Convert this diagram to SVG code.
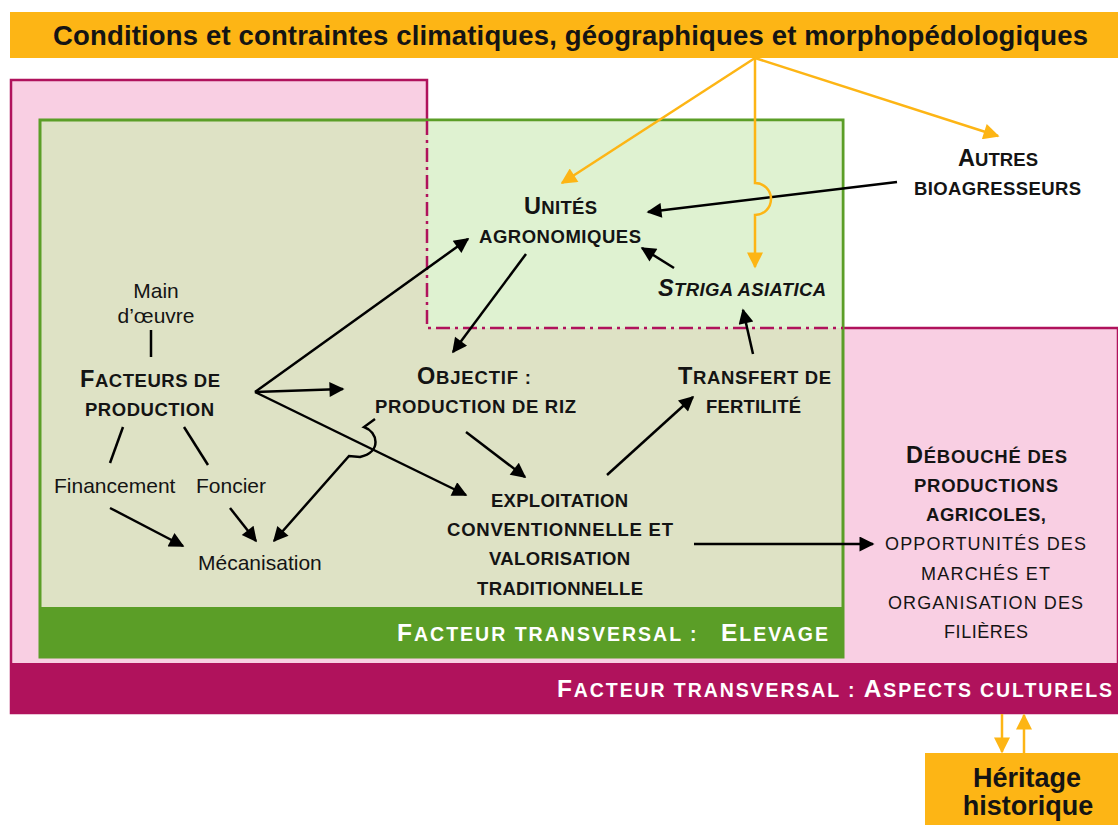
<svg xmlns="http://www.w3.org/2000/svg" width="1118" height="825" viewBox="0 0 1118 825">
<style>
text{font-family:"Liberation Sans",Arial,sans-serif;fill:#141414;text-anchor:middle}
.b{font-weight:bold;font-size:18.5px}
.bb{font-weight:bold;font-size:19.5px}
.r{font-size:21px}
.rs{font-size:18px}
.cap{font-size:23.5px}
.cap2{font-size:24.5px}
.w{fill:#ffffff}
.ln{fill:none;stroke:#000;stroke-width:2.5}
.ar{fill:none;stroke:#000;stroke-width:2.5;marker-end:url(#ab)}
.ao{fill:none;stroke:#fdb515;stroke-width:2.5;marker-end:url(#ao)}
</style>
<defs>
<marker id="ab" viewBox="0 0 10 10" refX="9" refY="5" markerUnits="userSpaceOnUse" markerWidth="18" markerHeight="15" orient="auto"><path d="M0,0 L10,5 L0,10 Z" fill="#000"/></marker>
<marker id="ao" viewBox="0 0 10 10" refX="9" refY="5" markerUnits="userSpaceOnUse" markerWidth="18" markerHeight="16" orient="auto"><path d="M0,0 L10,5 L0,10 Z" fill="#fdb515"/></marker>
</defs>
<rect width="1118" height="825" fill="#fff"/>
<g id="fond">
<path d="M11,80 H427 V328 H1118 V713 H11 Z" fill="#f9cfe3" stroke="#b0125c" stroke-width="2.5"/>
<rect x="40" y="120" width="803" height="537" fill="#dee2c5" stroke="#5b9e27" stroke-width="3"/>
<rect x="428" y="121.5" width="413.5" height="206.5" fill="#dff2d1"/>
<path d="M427,121 V328 H843" fill="none" stroke="#b0125c" stroke-width="2.5" stroke-dasharray="14 5 3 5"/>
</g>
<g id="titre">
<rect x="10" y="12" width="1108" height="46" fill="#fdb515"/>
<text x="570.5" y="45" style="font-weight:bold;font-size:27.5px" textLength="1035" lengthAdjust="spacing">Conditions et contraintes climatiques, géographiques et morphopédologiques</text>
</g>
<g id="elevage">
<rect x="40" y="607" width="803" height="50" fill="#5b9e27"/>
<text x="612.5" y="641" class="bb w" textLength="431" lengthAdjust="spacing"><tspan class="cap2">F</tspan>ACTEUR TRANSVERSAL :&#160;&#160; <tspan class="cap2">E</tspan>LEVAGE</text>
</g>
<g id="culturels">
<rect x="11" y="663" width="1107" height="50" fill="#b0125c"/>
<text x="834.5" y="697" class="bb w" textLength="555" lengthAdjust="spacing"><tspan class="cap2">F</tspan>ACTEUR TRANSVERSAL : <tspan class="cap2">A</tspan>SPECTS CULTURELS</text>
</g>
<g id="heritage">
<rect x="925" y="753" width="193" height="72" fill="#fdb515"/>
<text x="1027" y="787" style="font-weight:bold;font-size:27px">Héritage</text>
<text x="1028" y="815" style="font-weight:bold;font-size:27px">historique</text>
</g>
<g id="unites">
<text x="560.5" y="214" class="b" textLength="73" lengthAdjust="spacing"><tspan class="cap">U</tspan>NITÉS</text>
<text x="560" y="243" class="b" textLength="162" lengthAdjust="spacing">AGRONOMIQUES</text>
</g>
<g id="striga">
<text x="742" y="296" class="b" style="font-style:italic" textLength="168" lengthAdjust="spacing"><tspan class="cap">S</tspan>TRIGA ASIATICA</text>
</g>
<g id="autres">
<text x="998" y="166" class="b" textLength="80" lengthAdjust="spacing"><tspan class="cap">A</tspan>UTRES</text>
<text x="997.5" y="195" class="b" textLength="167" lengthAdjust="spacing">BIOAGRESSEURS</text>
</g>
<g id="main">
<text x="156" y="298" class="r">Main</text>
<text x="156" y="323" class="r">d’œuvre</text>
</g>
<g id="facteurs">
<text x="150" y="387" class="b" textLength="140" lengthAdjust="spacing"><tspan class="cap">F</tspan>ACTEURS DE</text>
<text x="149.5" y="416" class="b" textLength="129" lengthAdjust="spacing">PRODUCTION</text>
</g>
<g id="financement"><text x="54" y="493" class="r" style="text-anchor:start">Financement</text></g>
<g id="foncier"><text x="196" y="493" class="r" style="text-anchor:start">Foncier</text></g>
<g id="mecanisation"><text x="198" y="570" class="r" style="text-anchor:start">Mécanisation</text></g>
<g id="objectif">
<text x="474" y="384" class="b" textLength="114" lengthAdjust="spacing"><tspan class="cap">O</tspan>BJECTIF :</text>
<text x="475.5" y="413" class="b" textLength="201" lengthAdjust="spacing">PRODUCTION DE RIZ</text>
</g>
<g id="transfert">
<text x="754.5" y="384" class="b" textLength="153" lengthAdjust="spacing"><tspan class="cap">T</tspan>RANSFERT DE</text>
<text x="753.5" y="413" class="b" textLength="95" lengthAdjust="spacing">FERTILITÉ</text>
</g>
<g id="exploitation">
<text x="559.5" y="507" class="b" textLength="137" lengthAdjust="spacing">EXPLOITATION</text>
<text x="560" y="536" class="b" textLength="226" lengthAdjust="spacing">CONVENTIONNELLE ET</text>
<text x="559.5" y="565" class="b" textLength="141" lengthAdjust="spacing">VALORISATION</text>
<text x="560" y="595" class="b" textLength="166" lengthAdjust="spacing">TRADITIONNELLE</text>
</g>
<g id="debouche">
<text x="986.5" y="463" class="b" textLength="161" lengthAdjust="spacing"><tspan class="cap">D</tspan>ÉBOUCHÉ DES</text>
<text x="986" y="492" class="b" textLength="144" lengthAdjust="spacing">PRODUCTIONS</text>
<text x="986" y="521" class="b" textLength="120" lengthAdjust="spacing">AGRICOLES,</text>
<text x="985.5" y="550" class="rs" textLength="201" lengthAdjust="spacing">OPPORTUNITÉS DES</text>
<text x="985.5" y="580" class="rs" textLength="129" lengthAdjust="spacing">MARCHÉS ET</text>
<text x="985.5" y="609" class="rs" textLength="195" lengthAdjust="spacing">ORGANISATION DES</text>
<text x="986" y="638" class="rs" textLength="84" lengthAdjust="spacing">FILIÈRES</text>
</g>
<g id="connecteurs">
<path class="ln" d="M151,330 V357"/>
<path class="ln" d="M123,427 L110,463"/>
<path class="ln" d="M184,427 L208,465"/>
<path class="ar" d="M255,392 L468,239"/>
<path class="ar" d="M255,392 L343,389"/>
<path class="ar" d="M255,392 L466,495"/>
<path class="ar" d="M526,254 L453,352"/>
<path class="ar" d="M897,182 L648,212"/>
<path class="ar" d="M674,268 L642,248"/>
<path class="ar" d="M753,354 L743,310"/>
<path class="ar" d="M466,432 L525,477"/>
<path class="ar" d="M607,475 L693,397"/>
<path class="ar" d="M694,544 L873,544"/>
<path class="ar" d="M110,508 L183,546"/>
<path class="ar" d="M230,508 L256,541"/>
<path class="ar" d="M375,419 L364,427 C378,432 382,452 360,457 L349,456 L274,541"/>
<path class="ao" d="M755,58 L562,183"/>
<path class="ao" d="M755,58 V183 A16,16 0 0 1 755,215 V267"/>
<path class="ao" d="M755,58 L998,136"/>
<path class="ao" d="M1002,714 V752"/>
<path class="ao" d="M1024,753 V715"/>
</g>
</svg>
